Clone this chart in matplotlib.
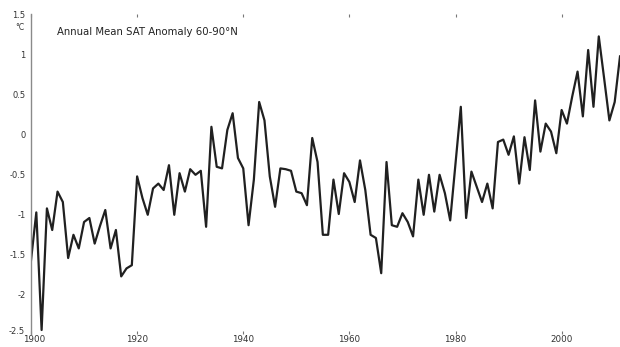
import numpy as np
import matplotlib
matplotlib.use("Agg")
import matplotlib.pyplot as plt
import matplotlib.transforms as mtrans

# annual mean surface air temperature anomaly, 60-90N (deg C)
years = np.arange(1900, 2012)
anom = [
    -1.58, -0.98, -2.45, -0.93, -1.20, -0.72, -0.85, -1.55, -1.26, -1.43,  # 1900s
    -1.10, -1.05, -1.37, -1.15, -0.95, -1.43, -1.20, -1.78, -1.68, -1.64,  # 1910s
    -0.53, -0.80, -1.01, -0.68, -0.62, -0.70, -0.39, -1.01, -0.49, -0.72,  # 1920s
    -0.44, -0.51, -0.46, -1.16, 0.09, -0.41, -0.43, 0.05, 0.26, -0.30,     # 1930s
    -0.43, -1.14, -0.57, 0.40, 0.17, -0.53, -0.91, -0.43, -0.44, -0.46,    # 1940s
    -0.72, -0.74, -0.89, -0.05, -0.35, -1.26, -1.26, -0.57, -1.00, -0.49,  # 1950s
    -0.60, -0.85, -0.33, -0.70, -1.26, -1.30, -1.74, -0.35, -1.14, -1.16,  # 1960s
    -0.99, -1.10, -1.28, -0.57, -1.01, -0.51, -0.97, -0.51, -0.74, -1.08,  # 1970s
    -0.37, 0.34, -1.05, -0.47, -0.66, -0.85, -0.62, -0.93, -0.10, -0.07,   # 1980s
    -0.26, -0.03, -0.62, -0.04, -0.45, 0.42, -0.22, 0.13, 0.03, -0.24,     # 1990s
    0.30, 0.13, 0.47, 0.78, 0.22, 1.05, 0.34, 1.22, 0.70, 0.17,            # 2000s
    0.40, 0.97,
]

yticks = [-2.5, -2, -1.5, -1, -0.5, 0, 0.5, 1, 1.5]
ytick_labels = ['-2.5', '-2', '-1.5', '-1', '-0.5', '0', '0.5', '1', '1.5']
xticks = [1900, 1920, 1940, 1960, 1980, 2000]

fig = plt.figure(figsize=(6.2, 3.47), dpi=100)
ax = fig.add_axes([31 / 620, 13 / 347, 589 / 620, 320 / 347])

ax.plot(years, anom, color='#202020', linewidth=1.6)

ax.set_xlim(1900, 2011)
ax.set_ylim(-2.5, 1.5)
ax.set_yticks(yticks)
ax.set_yticklabels(ytick_labels)
ax.set_xticks(xticks)

for side in ['top', 'right', 'bottom']:
    ax.spines[side].set_visible(False)
ax.spines['left'].set_color('#8a8a8a')
ax.spines['left'].set_linewidth(1.0)

ax.tick_params(axis='x', which='both', direction='in', top=True, bottom=True,
               length=2.5, width=0.8, color='#777777', labelsize=6.3, pad=1.0,
               labelcolor='#333333')
ax.tick_params(axis='y', direction='in', length=0, labelsize=6, pad=4,
               labelcolor='#333333')

# the corner labels sit close together in the original, nudge them apart a bit
lbl = ax.get_yticklabels()[0]
lbl.set_transform(lbl.get_transform() + mtrans.ScaledTranslation(-0.01, 0.03, fig.dpi_scale_trans))
lbl = ax.get_xticklabels()[0]
lbl.set_transform(lbl.get_transform() + mtrans.ScaledTranslation(0.03, 0, fig.dpi_scale_trans))

ax.text(0.044, 0.944, 'Annual Mean SAT Anomaly 60-90\u00b0N', transform=ax.transAxes,
        fontsize=7.3, color='#222222', ha='left', va='center')
fig.text(20 / 620, 1 - 27 / 347, '\u00b0C', fontsize=5.5, color='#333333',
         ha='center', va='center')

fig.savefig('out.png', dpi=100)
